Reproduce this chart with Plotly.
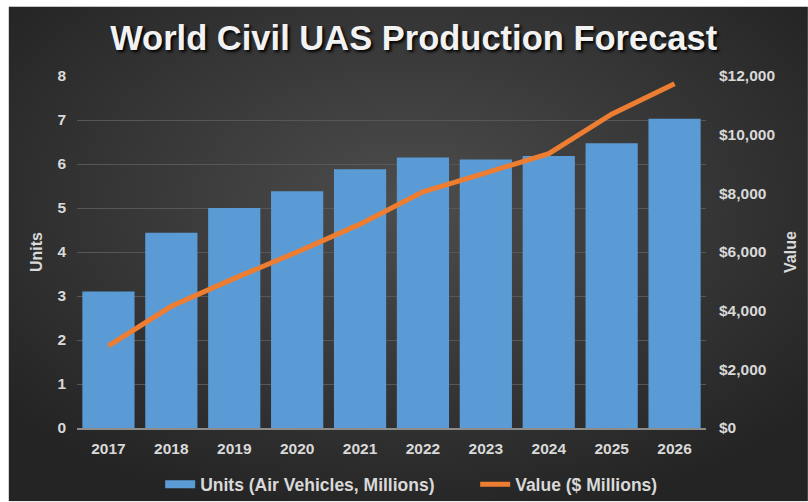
import base64
import plotly.graph_objects as go

years = ["2017", "2018", "2019", "2020", "2021", "2022", "2023", "2024", "2025", "2026"]
units_millions = [3.10, 4.44, 5.00, 5.38, 5.88, 6.15, 6.10, 6.18, 6.47, 7.03]
value_millions = [2800, 4150, 5100, 6000, 6950, 8050, 8700, 9350, 10700, 11740]

left_ticks = [0, 1, 2, 3, 4, 5, 6, 7, 8]
right_ticks = [0, 2000, 4000, 6000, 8000, 10000, 12000]
right_tick_text = ["$0", "$2,000", "$4,000", "$6,000", "$8,000", "$10,000", "$12,000"]

BLUE = "#5b9bd5"
ORANGE = "#ed7d31"

W, H = 808, 502
ml, mr, mt, mb = 76.5, 102, 75.7, 73.5
pw, ph = W - ml - mr, H - mt - mb

def px_to_paper_x(px):
    return (px - ml) / pw

def px_to_paper_y(py):
    return (H - mb - py) / ph

svg = (
    '<svg xmlns="http://www.w3.org/2000/svg" width="800" height="496" viewBox="0 0 800 496">'
    '<defs><radialGradient id="g" cx="50%" cy="40%" r="65%">'
    '<stop offset="0%" stop-color="#4d4d4d"/>'
    '<stop offset="100%" stop-color="#242424"/>'
    '</radialGradient></defs>'
    '<rect width="800" height="496" fill="url(#g)"/></svg>'
)
bg_src = "data:image/svg+xml;base64," + base64.b64encode(svg.encode()).decode()

FAM = "Liberation Sans, Arial, sans-serif"

fig = go.Figure()
fig.add_trace(go.Bar(
    x=years, y=units_millions, name="Units (Air Vehicles, Millions)",
    marker=dict(color=BLUE, line=dict(width=0)), yaxis="y", showlegend=False,
))
# legend proxy giving the wide rectangular swatch of the bar series
fig.add_trace(go.Scatter(
    x=[None], y=[None], name="Units (Air Vehicles, Millions)", mode="lines",
    line=dict(color=BLUE, width=8), yaxis="y", hoverinfo="skip",
))
fig.add_trace(go.Scatter(
    x=years, y=value_millions, name="Value ($ Millions)", mode="lines",
    line=dict(color=ORANGE, width=5), yaxis="y2",
))

tick_font = dict(family=FAM, size=15.5, color="#d9d9d9", weight="bold")
title_font = dict(family=FAM, size=16, color="#d9d9d9", weight="bold")

fig.update_layout(
    width=W, height=H,
    margin=dict(l=ml, r=mr, t=mt, b=mb, pad=0, autoexpand=False),
    paper_bgcolor="white",
    plot_bgcolor="rgba(0,0,0,0)",
    bargap=0.17,
    showlegend=True,
    title=dict(
        text="<b>World Civil UAS Production Forecast</b>",
        x=0.512, xanchor="center", xref="container",
        y=1 - 38 / H, yanchor="middle", yref="container",
        font=dict(family=FAM, size=34.5, color="#f2f2f2",
                  shadow="2px 2px 3px #000000"),
    ),
    images=[dict(
        source=bg_src, xref="paper", yref="paper",
        x=px_to_paper_x(8), y=px_to_paper_y(6),
        sizex=(W - 8) / pw, sizey=(H - 6) / ph,
        xanchor="left", yanchor="top", sizing="stretch", layer="below",
    )],
    xaxis=dict(
        type="category", showgrid=False, ticks="",
        showline=True, linecolor="#8c8c8c", linewidth=1.5,
        tickfont=tick_font, ticklabelstandoff=6,
    ),
    yaxis=dict(
        range=[0, 8], tickvals=left_ticks, showgrid=True, gridcolor="#575757", gridwidth=1,
        zeroline=False, ticks="", tickfont=tick_font, ticklabelstandoff=10,
        title=dict(text="Units", font=title_font, standoff=10),
    ),
    yaxis2=dict(
        range=[0, 12000], tickvals=right_ticks, ticktext=right_tick_text,
        overlaying="y", side="right", showgrid=False, zeroline=False, ticks="",
        tickfont=tick_font, ticklabelstandoff=12,
        title=dict(text="Value", font=title_font, standoff=10),
    ),
    legend=dict(
        orientation="h", x=px_to_paper_x(475), xanchor="center",
        y=px_to_paper_y(485), yanchor="middle",
        font=dict(family=FAM, size=17.5, color="#d9d9d9", weight="bold"),
        bgcolor="rgba(0,0,0,0)", itemwidth=30,
        entrywidth=270, entrywidthmode="pixels",
    ),
)

fig.write_html("out.html")
